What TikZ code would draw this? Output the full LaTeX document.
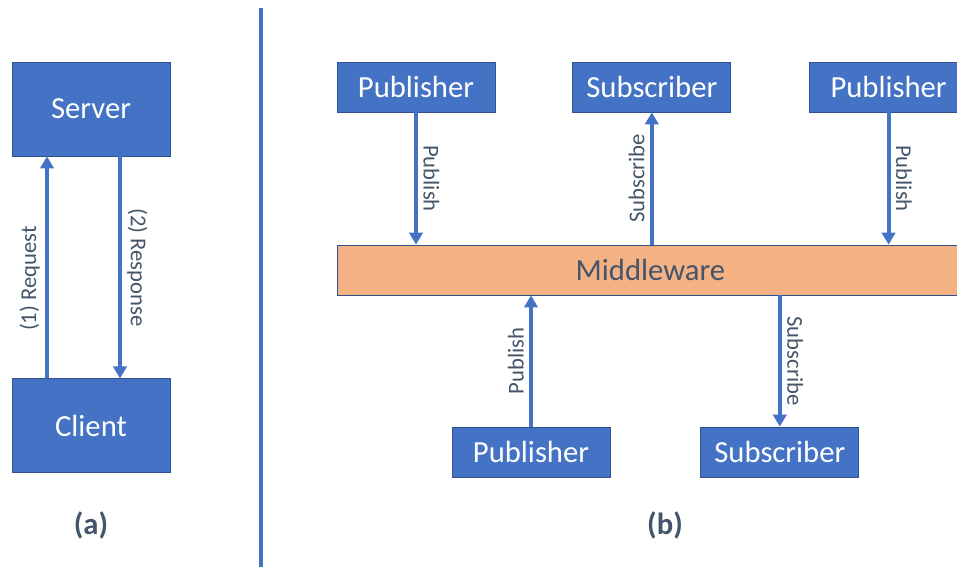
\documentclass[tikz,border=0pt]{standalone}
\usepackage{fontspec}
\setmainfont{Carlito}
\usetikzlibrary{arrows.meta,positioning,calc}
\definecolor{boxblue}{HTML}{4472C4}
\definecolor{edgeblue}{HTML}{2F528F}
\definecolor{mworange}{HTML}{F4B183}
\definecolor{slate}{HTML}{44546A}
\tikzset{
  box/.style={draw=edgeblue, line width=0.6pt, fill=boxblue, text=white, minimum width=118.5pt, minimum height=37.5pt, inner sep=0pt, font=\fontsize{23}{27}\selectfont},
  tallbox/.style={box, minimum height=70.5pt},
  mwbox/.style={box, fill=mworange, text=slate, minimum width=469.5pt},
  arrow/.style={-{Triangle[length=9pt, width=10pt]}, line width=3pt, draw=boxblue},
  lbl/.style={midway, sloped, above, text=slate, inner sep=4pt, font=\fontsize{17}{20}\selectfont},
  caption/.style={text=slate, font=\bfseries\fontsize{23}{27}\selectfont}
}

\begin{document}
\begin{tikzpicture}[x=0.75pt, y=-0.75pt, node distance=166.5pt]
  \clip (0,0) rectangle (957,567);
  % (a) client / server
  \node[tallbox] (server) at (91,109) {Server};
  \node[tallbox, below=of server] (client) {Client};
  \draw[arrow] ($(client.north)+(-44,0)$) -- ($(server.south)+(-44,0)$) node[lbl, pos=0.45] {(1) Request};
  \draw[arrow] ($(server.south)+(29,0)$) -- ($(client.north)+(29,0)$) node[lbl] {(2) Response};
  \node[caption] (capa) at (91,525) {(a)};
  % divider
  \coordinate (divtop) at (261,8);
  \coordinate (divbot) at (261,567);
  \draw[boxblue, line width=2.8pt] (divtop) -- (divbot);
  % (b) publish / subscribe
  \node[mwbox, anchor=west] (mw) at (337,270) {Middleware};
  \node[box] (pubA) at (416,87) {Publisher};
  \node[box, right=57.75pt of pubA] (subA) {Subscriber};
  \node[box, right=58.5pt of subA] (pubB) {Publisher};
  \node[box] (pubC) at (531,452) {Publisher};
  \node[box, right=67.5pt of pubC] (subB) {Subscriber};
  \draw[arrow] (pubA.south) -- (pubA.south |- mw.north) node[lbl] {Publish};
  \draw[arrow] (subA.south |- mw.north) -- (subA.south) node[lbl] {Subscribe};
  \draw[arrow] (pubB.south) -- (pubB.south |- mw.north) node[lbl] {Publish};
  \draw[arrow] (pubC.north) -- (pubC.north |- mw.south) node[lbl] {Publish};
  \draw[arrow] (subB.north |- mw.south) -- (subB.north) node[lbl] {Subscribe};
  \node[caption] (capb) at (665,525) {(b)};
\end{tikzpicture}
\end{document}
